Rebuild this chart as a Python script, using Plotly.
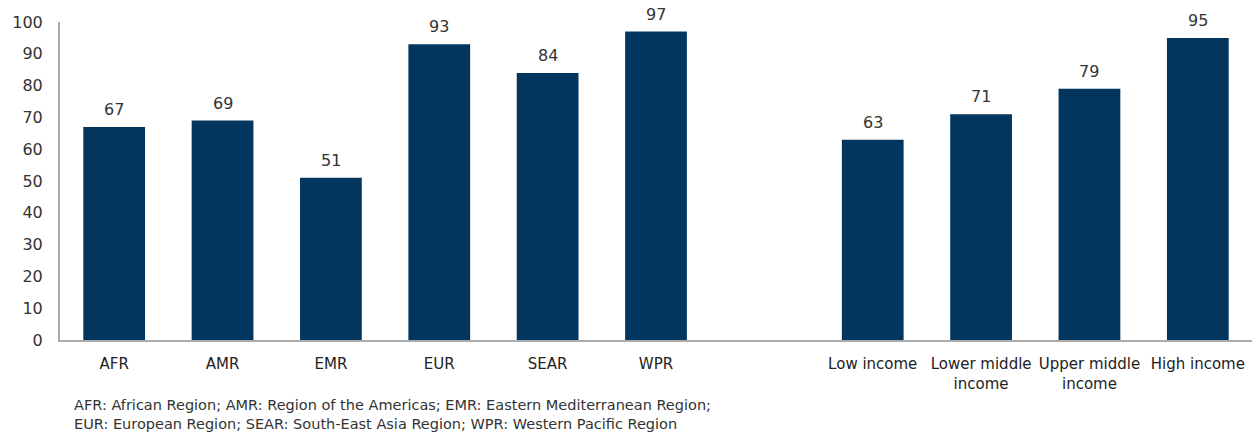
import plotly.graph_objects as go

regions = ["AFR", "AMR", "EMR", "EUR", "SEAR", "WPR"]
region_values = [67, 69, 51, 93, 84, 97]
incomes = ["Low income", "Lower middle<br>income", "Upper middle<br>income", "High income"]
income_values = [63, 71, 79, 95]
gap_label = " "

categories = regions + [gap_label] + incomes
values = region_values + [None] + income_values

y_ticks = list(range(0, 101, 10))
footnote = ("AFR: African Region; AMR: Region of the Americas; EMR: Eastern Mediterranean Region;<br>"
            "EUR: European Region; SEAR: South-East Asia Region; WPR: Western Pacific Region")

FONT = "DejaVu Sans, Verdana, sans-serif"

fig = go.Figure(go.Bar(
    x=categories, y=values,
    marker=dict(color="#03365f", line=dict(width=0)),
    cliponaxis=False, hoverinfo="x+y",
))

for c, v in zip(categories, values):
    if v is None:
        continue
    fig.add_annotation(
        x=c, y=v, xref="x", yref="y", text=str(v), showarrow=False,
        yanchor="bottom", yshift=6, font=dict(size=16, color="#333333", family=FONT),
    )

fig.update_layout(
    width=1254, height=433,
    margin=dict(l=60, r=2, t=22, b=93),
    paper_bgcolor="white", plot_bgcolor="white",
    font=dict(family=FONT, color="#333333"),
    bargap=0.43, showlegend=False,
)
fig.update_xaxes(
    type="category", categoryorder="array", categoryarray=categories,
    showline=True, linecolor="#ababab", linewidth=2,
    ticks="outside", ticklen=9, tickcolor="rgba(0,0,0,0)",
    tickfont=dict(size=15, color="#222222"), showgrid=False,
)
fig.update_yaxes(
    range=[0, 100], tickvals=y_ticks, showgrid=False, zeroline=False,
    showline=True, linecolor="#ababab", linewidth=2,
    ticks="outside", ticklen=12, tickcolor="rgba(0,0,0,0)",
    tickfont=dict(size=16, color="#333333"),
)
fig.add_annotation(
    text=footnote, xref="paper", yref="paper", x=(72 - 60) / 1192, y=-0.172,
    xanchor="left", yanchor="top", align="left", showarrow=False,
    font=dict(size=14.5, color="#333333", family=FONT),
)
fig.write_html("out.html")
